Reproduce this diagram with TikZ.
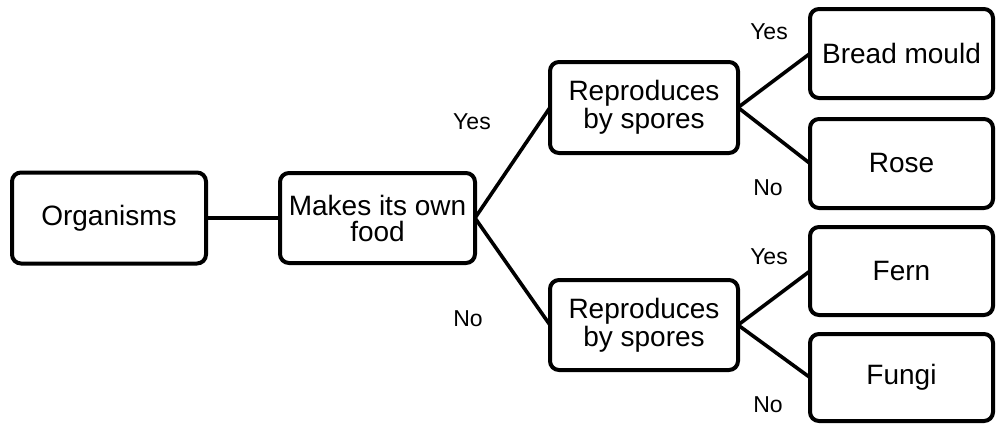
\documentclass[tikz,border=0pt]{standalone}
\usepackage{fontspec}
\setmainfont{Liberation Sans}
\begin{document}
\begin{tikzpicture}[x=1pt,y=-1pt,
  box/.style={draw=black, line width=4pt, rounded corners=9pt, inner sep=0pt, outer sep=0pt,
    align=center, font=\fontsize{28}{28}\selectfont},
  link/.style={line width=3.6pt},
  lbl/.style={font=\fontsize{23}{23}\selectfont, inner sep=0pt}]
\useasboundingbox (0,0) rectangle (998,426);
\node[box, minimum width=194pt, minimum height=91pt] (org) at (109,218) {Organisms};
\node[box, minimum width=195pt, minimum height=90pt, font=\fontsize{28}{26}\selectfont] (food) at (377.5,218) {Makes its own\\food};
\node[box, minimum width=188pt, minimum height=91pt] (rt) at (644,107.5) {Reproduces\\by spores};
\node[box, minimum width=188pt, minimum height=90pt] (rb) at (644,325) {Reproduces\\by spores};
\node[box, minimum width=183pt, minimum height=89pt] (bread) at (901.5,53.5) {Bread mould};
\node[box, minimum width=183pt, minimum height=89pt] (rose) at (901.5,163.5) {Rose};
\node[box, minimum width=183pt, minimum height=88pt] (fern) at (901.5,271) {Fern};
\node[box, minimum width=183pt, minimum height=87pt] (fungi) at (901.5,377.5) {Fungi};
\draw[link] (org.east) -- (food.west);
\draw[link] (food.east) -- (rt.west);
\draw[link] (food.east) -- (rb.west);
\draw[link] (rt.east) -- (bread.west);
\draw[link] (rt.east) -- (rose.west);
\draw[link] (rb.east) -- (fern.west);
\draw[link] (rb.east) -- (fungi.west);
\node[lbl] (y1) at (472,122) {Yes};
\node[lbl] (n1) at (468,319) {No};
\node[lbl] (y2) at (769,32) {Yes};
\node[lbl] (n2) at (768,188) {No};
\node[lbl] (y3) at (769,257) {Yes};
\node[lbl] (n3) at (768,405) {No};
\end{tikzpicture}
\end{document}
